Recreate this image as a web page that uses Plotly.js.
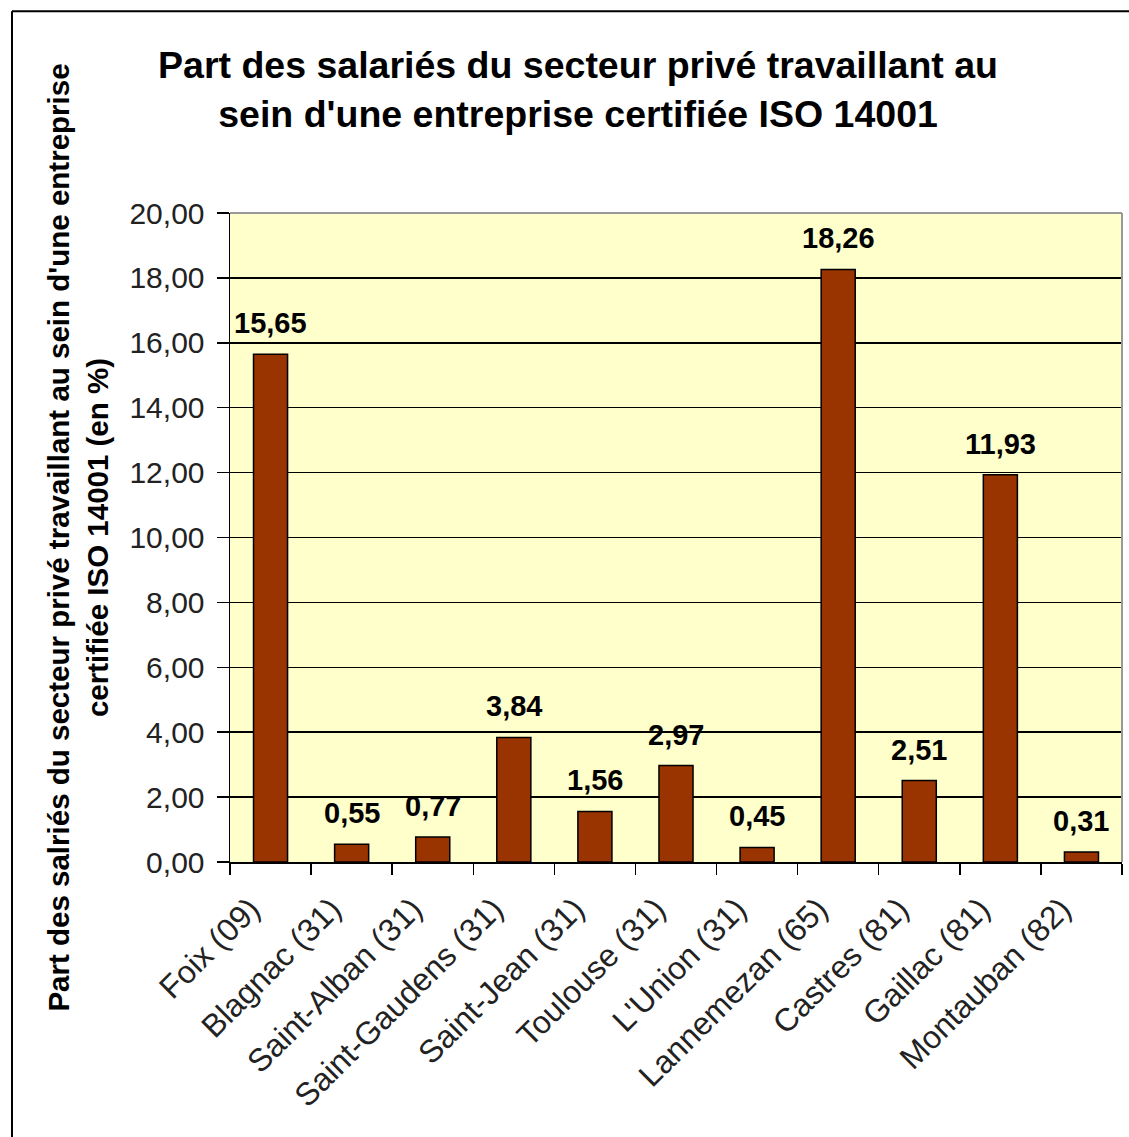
<!DOCTYPE html>
<html>
<head>
<meta charset="utf-8">
<script src="https://cdn.plot.ly/plotly-3.0.1.min.js"></script>
<style>html,body{margin:0;padding:0;background:#fff;}#chart{width:1129px;height:1137px;}</style>
</head>
<body>
<div id="chart"></div>
<script>
const categories = ["Foix (09)", "Blagnac (31)", "Saint-Alban (31)", "Saint-Gaudens (31)", "Saint-Jean (31)", "Toulouse (31)", "L'Union (31)", "Lannemezan (65)", "Castres (81)", "Gaillac (81)", "Montauban (82)"];
const values = [15.65, 0.55, 0.77, 3.84, 1.56, 2.97, 0.45, 18.26, 2.51, 11.93, 0.31];
const yTicks = [0, 2, 4, 6, 8, 10, 12, 14, 16, 18, 20];
const chartTitle = "Part des salariés du secteur privé travaillant au<br>sein d'une entreprise certifiée ISO 14001";
const yTitle = "Part des salriés du secteur privé travaillant au sein d'une entreprise<br>certifiée ISO 14001 (en %)";

const FONT = "Arial, 'Liberation Sans', sans-serif";

const trace = {
  type: "bar",
  x: categories,
  y: values,
  marker: {color: "#993300", line: {color: "#000000", width: 1.5}},
  hoverinfo: "x+y"
};

const annotations = categories.map((c, i) => ({
  x: c, y: values[i], xref: "x", yref: "y",
  text: values[i].toFixed(2).replace(".", ","),
  showarrow: false, yanchor: "bottom", yshift: 13,
  font: {family: FONT, size: 29, color: "#000", weight: "bold"}
}));

const layout = {
  width: 1129, height: 1137,
  margin: {l: 230, r: 7, t: 213, b: 275},
  paper_bgcolor: "#ffffff",
  plot_bgcolor: "#FFFFCC",
  separators: ",.",
  showlegend: false,
  bargap: 0.58,
  title: {
    text: chartTitle,
    font: {family: FONT, size: 37.5, color: "#000", weight: "bold"},
    xref: "container", x: 0.512, xanchor: "center",
    yref: "container", y: 0.9315, yanchor: "middle"
  },
  xaxis: {
    type: "category",
    tickangle: -45,
    tickson: "boundaries",
    ticks: "outside", ticklen: 11, tickcolor: "#000", tickwidth: 1.5,
    ticklabelstandoff: 14,
    ticklabelshift: -20,
    showline: true, linecolor: "#000", linewidth: 1.5,
    showgrid: false,
    tickfont: {family: FONT, size: 32, color: "#222"},
    automargin: false
  },
  yaxis: {
    range: [0, 20],
    tickvals: yTicks,
    tickformat: ".2f",
    ticks: "outside", ticklen: 12, tickcolor: "#000", tickwidth: 1.5,
    ticklabelstandoff: 6,
    showline: true, linecolor: "#000", linewidth: 1.5,
    showgrid: true, gridcolor: "#000", gridwidth: 1.5,
    zeroline: false,
    tickfont: {family: FONT, size: 30, color: "#222"},
    title: {text: yTitle, standoff: 12, font: {family: FONT, size: 29.5, color: "#000", weight: "bold"}},
    automargin: false
  },
  annotations: annotations,
  shapes: [
    {type: "line", xref: "paper", yref: "paper", x0: 0, x1: 1, y0: 1, y1: 1, line: {color: "#999", width: 2}},
    {type: "line", xref: "paper", yref: "paper", x0: 1, x1: 1, y0: 0, y1: 1, line: {color: "#999", width: 2}},
    {type: "line", xref: "paper", yref: "paper", x0: -0.2444, x1: -0.2444, y0: -0.5, y1: 1.311, line: {color: "#000", width: 2}},
    {type: "line", xref: "paper", yref: "paper", x0: -0.2444, x1: 1.2, y0: 1.311, y1: 1.311, line: {color: "#000", width: 2}}
  ]
};

Plotly.newPlot("chart", [trace], layout, {displayModeBar: false, staticPlot: true});
</script>
</body>
</html>
